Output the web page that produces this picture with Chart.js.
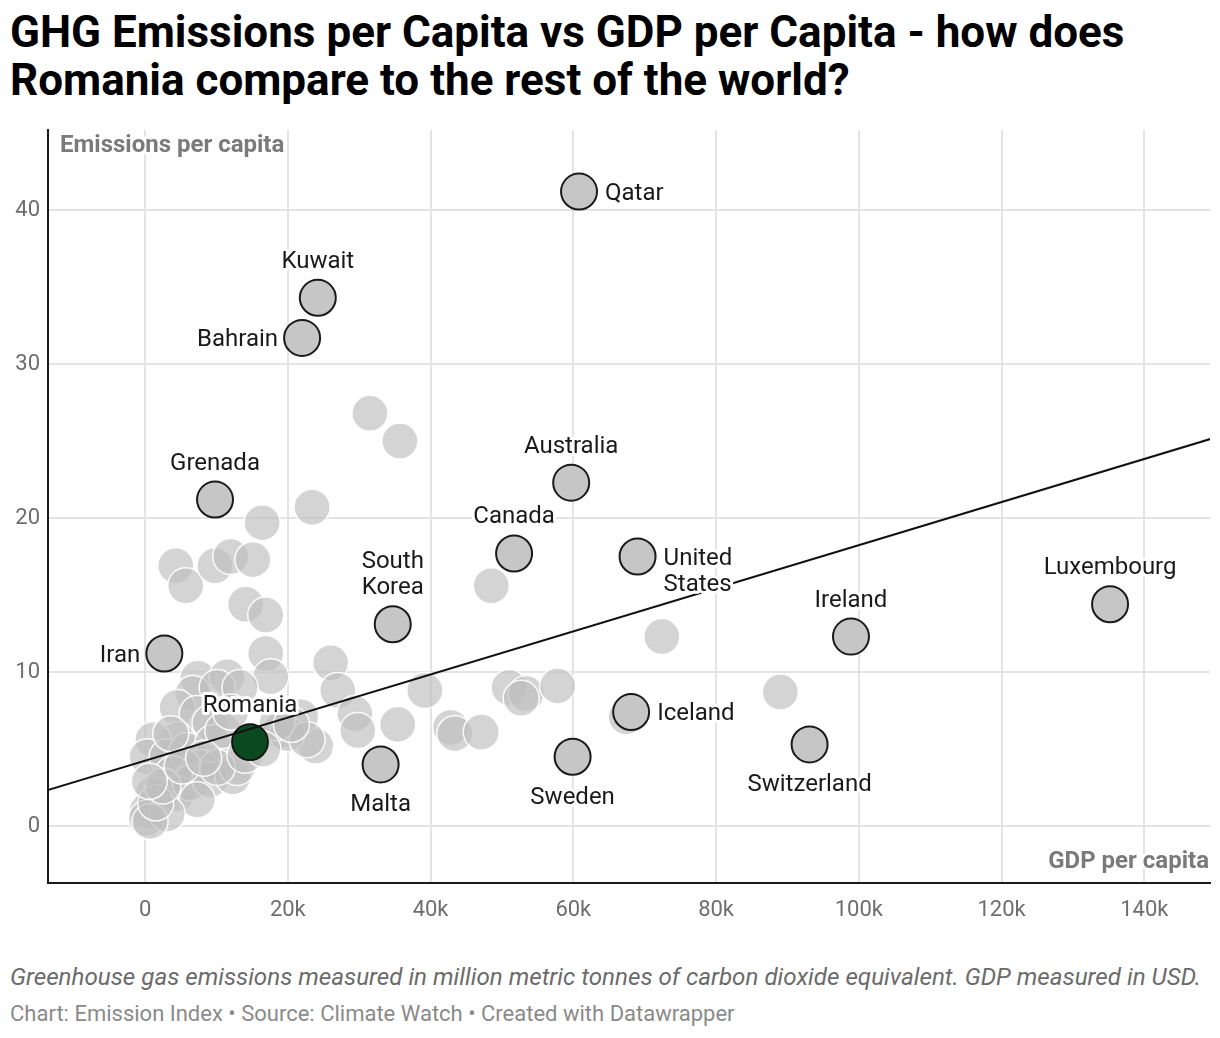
<!DOCTYPE html>
<html>
<head>
<meta charset="utf-8">
<script src="https://cdn.jsdelivr.net/npm/chart.js@4/dist/chart.umd.min.js"></script>
<style>
  body { margin: 0; background: #fff; font-family: Roboto, sans-serif; }
  #wrap { position: relative; width: 1220px; height: 1038px; }
  h1 { position: absolute; left: 10px; top: 8px; margin: 0; font-size: 44px; line-height: 48px; font-weight: 700; color: #000; }
  #chart { position: absolute; left: 0; top: 120px; }
  .note { position: absolute; left: 10px; top: 963px; font-size: 24.2px; line-height: 28px; font-style: italic; color: #6b6b6b; white-space: nowrap; }
  .source { position: absolute; left: 10px; top: 1001px; font-size: 22px; line-height: 26px; color: #8a8a8a; white-space: nowrap; }
</style>
</head>
<body>
<div id="wrap">
  <h1>GHG Emissions per Capita vs GDP per Capita - how does<br>Romania compare to the rest of the world?</h1>
  <canvas id="chart" width="1220" height="810"></canvas>
  <div class="note">Greenhouse gas emissions measured in million metric tonnes of carbon dioxide equivalent. GDP measured in USD.</div>
  <div class="source">Chart: Emission Index • Source: Climate Watch • Created with Datawrapper</div>
</div>
<script>
// labelled countries
var countries = ["Qatar", "Kuwait", "Bahrain", "Grenada", "Australia", "Canada", "South Korea",
                 "United States", "Iran", "Ireland", "Luxembourg", "Malta", "Sweden", "Iceland", "Switzerland"];
var countryGdp = [60800, 24200, 22000, 9800, 59700, 51700, 34700, 69000, 2700, 98900, 135200, 33000, 59900, 68100, 93100];
var countryEmissions = [41.2, 34.3, 31.7, 21.2, 22.3, 17.7, 13.1, 17.5, 11.2, 12.3, 14.4, 4.0, 4.5, 7.4, 5.3];

var romaniaGdp = [14700];
var romaniaEmissions = [5.45];

// rest of the world
var otherGdp = [31500, 35700, 23400, 16400, 4300, 5700, 9800, 12000, 15100, 14100, 16900, 16900, 17600,
                26000, 27000, 29400, 29800, 35400, 39200, 42800, 43400, 47100, 48500, 51000, 53400, 52700,
                57800, 72400, 67400, 89000, 23900, 21800, 19000, 7400, 11500, 6700, 10100, 13300, 4500,
                7300, 9100, 4500, 1100, 300, 3100, 5900, 9500, 10900, 7700, 3900, 1100, 2100, 300, 200,
                4500, 6300, 9100, 12300, 12900, 19900, 22700, 18500, 10100, 7300, 3100, 700, 1500, 2500,
                5200, 8200, 14000, 16500, 20500, 12000, 600, 3600];
var otherEmissions = [26.8, 25.0, 20.7, 19.7, 16.9, 15.6, 16.9, 17.5, 17.3, 14.4, 13.7, 11.2, 9.7,
                      10.6, 8.8, 7.3, 6.2, 6.6, 8.8, 6.4, 6.0, 6.1, 15.6, 9.0, 8.6, 8.3,
                      9.1, 12.3, 7.1, 8.7, 5.2, 7.1, 6.2, 9.6, 9.7, 8.6, 9.0, 9.0, 7.7,
                      7.3, 6.7, 5.6, 5.6, 4.5, 4.5, 4.9, 5.4, 6.2, 3.8, 3.4, 2.1, 1.9, 1.0, 0.5,
                      2.1, 2.8, 3.0, 3.2, 3.8, 6.0, 5.6, 6.7, 3.8, 1.7, 0.8, 0.3, 1.5, 2.6,
                      3.9, 4.4, 4.6, 5.0, 6.6, 7.4, 2.9, 6.0];

// trend line end points
var trendGdp = [-14000, 150000];
var trendEmissions = [2.28, 25.24];

var xTicks = [0, 20000, 40000, 60000, 80000, 100000, 120000, 140000];
var yTicks = [0, 10, 20, 30, 40];

function toPoints(xs, ys) {
    var pts = [];
    for (var i = 0; i < xs.length; i++) {
        pts.push({x: xs[i], y: ys[i]});
    }
    return pts;
}

// where each label sits relative to its circle
var labelPlace = {
    "Qatar": "right", "Kuwait": "top", "Bahrain": "left", "Grenada": "top", "Australia": "top",
    "Canada": "top", "South Korea": "top", "United States": "right", "Iran": "left",
    "Ireland": "top", "Luxembourg": "top", "Malta": "bottom", "Sweden": "bottom",
    "Iceland": "right", "Switzerland": "bottom", "Romania": "top"
};
var labelLines = {
    "South Korea": ["South", "Korea"],
    "United States": ["United", "States"]
};

var labelPlugin = {
    id: 'pointLabels',
    afterDatasetsDraw: function (chart) {
        var ctx = chart.ctx;
        var xs = chart.scales.x, ys = chart.scales.y;
        var names = countries.concat(["Romania"]);
        var gx = countryGdp.concat(romaniaGdp);
        var gy = countryEmissions.concat(romaniaEmissions);
        ctx.save();
        ctx.font = '24px Roboto';
        ctx.fillStyle = '#1a1a1a';
        ctx.strokeStyle = '#fff';
        ctx.lineWidth = 6;
        ctx.lineJoin = 'round';
        for (var i = 0; i < names.length; i++) {
            var px = xs.getPixelForValue(gx[i]);
            var py = ys.getPixelForValue(gy[i]) + 2;
            var lines = labelLines[names[i]] || [names[i]];
            var place = labelPlace[names[i]];
            var lh = 26;
            var tx = px, ty = py;
            ctx.textBaseline = 'middle';
            if (place == 'top') {
                ctx.textAlign = 'center';
                ty = py - 38 - (lines.length - 1) * lh;
            } else if (place == 'bottom') {
                ctx.textAlign = 'center';
                ty = py + 39;
            } else if (place == 'left') {
                ctx.textAlign = 'right';
                tx = px - 24;
            } else {
                ctx.textAlign = 'left';
                tx = px + 26;
            }
            for (var j = 0; j < lines.length; j++) {
                ctx.strokeText(lines[j], tx, ty + j * lh);
                ctx.fillText(lines[j], tx, ty + j * lh);
            }
        }
        // axis titles
        var area = chart.chartArea;
        ctx.font = 'bold 24px Roboto';
        ctx.fillStyle = '#7a7a7a';
        ctx.textAlign = 'left';
        ctx.strokeText('Emissions per capita', area.left + 12, area.top + 16);
        ctx.fillText('Emissions per capita', area.left + 12, area.top + 16);
        ctx.textAlign = 'right';
        ctx.strokeText('GDP per capita', area.right - 1, area.bottom - 21);
        ctx.fillText('GDP per capita', area.right - 1, area.bottom - 21);
        ctx.restore();
    }
};

var ctx = document.getElementById('chart').getContext('2d');

var chart = new Chart(ctx, {
    type: 'scatter',
    data: {
        datasets: [
            {
                type: 'line',
                data: toPoints(trendGdp, trendEmissions),
                borderColor: '#111',
                borderWidth: 2,
                pointRadius: 0,
                fill: false,
                order: 0
            },
            {
                data: toPoints(romaniaGdp, romaniaEmissions),
                backgroundColor: '#0b4a1f',
                borderColor: '#111',
                borderWidth: 1.8,
                pointRadius: 18,
                order: 1
            },
            {
                data: toPoints(countryGdp, countryEmissions),
                backgroundColor: '#c6c6c6',
                borderColor: '#1a1a1a',
                borderWidth: 2,
                pointRadius: 18,
                order: 2
            },
            {
                data: toPoints(otherGdp, otherEmissions),
                backgroundColor: 'rgba(192,192,192,0.68)',
                borderColor: 'rgba(255,255,255,0.9)',
                borderWidth: 1.5,
                pointRadius: 18,
                order: 3
            }
        ]
    },
    options: {
        responsive: false,
        animation: false,
        devicePixelRatio: 1,
        layout: { autoPadding: false, padding: { top: 10, right: 10, left: 0, bottom: 0 } },
        plugins: { legend: { display: false }, tooltip: { enabled: false } },
        scales: {
            x: {
                type: 'linear',
                min: -13600,
                max: 149200,
                afterBuildTicks: function (scale) {
                    scale.ticks = xTicks.map(function (v) { return {value: v}; });
                },
                afterFit: function (scale) {
                    scale.height = 47;
                    scale.paddingLeft = 0;
                    scale.paddingRight = 0;
                },
                ticks: {
                    font: { family: 'Roboto', size: 22 },
                    color: '#6e6e6e',
                    padding: 14,
                    maxRotation: 0,
                    callback: function (v) { return v == 0 ? '0' : (v / 1000) + 'k'; }
                },
                grid: { color: '#e4e4e4', lineWidth: 2, drawTicks: false },
                border: { display: true, color: '#1a1a1a', width: 2 }
            },
            y: {
                type: 'linear',
                min: -3.7,
                max: 45.2,
                afterBuildTicks: function (scale) {
                    scale.ticks = yTicks.map(function (v) { return {value: v}; });
                },
                afterFit: function (scale) {
                    scale.width = 48;
                    scale.paddingTop = 0;
                    scale.paddingBottom = 0;
                },
                ticks: {
                    font: { family: 'Roboto', size: 22 },
                    color: '#6e6e6e',
                    padding: 8
                },
                grid: { color: '#e4e4e4', lineWidth: 2, drawTicks: false },
                border: { display: true, color: '#1a1a1a', width: 2 }
            }
        }
    },
    plugins: [labelPlugin]
});
</script>
</body>
</html>
